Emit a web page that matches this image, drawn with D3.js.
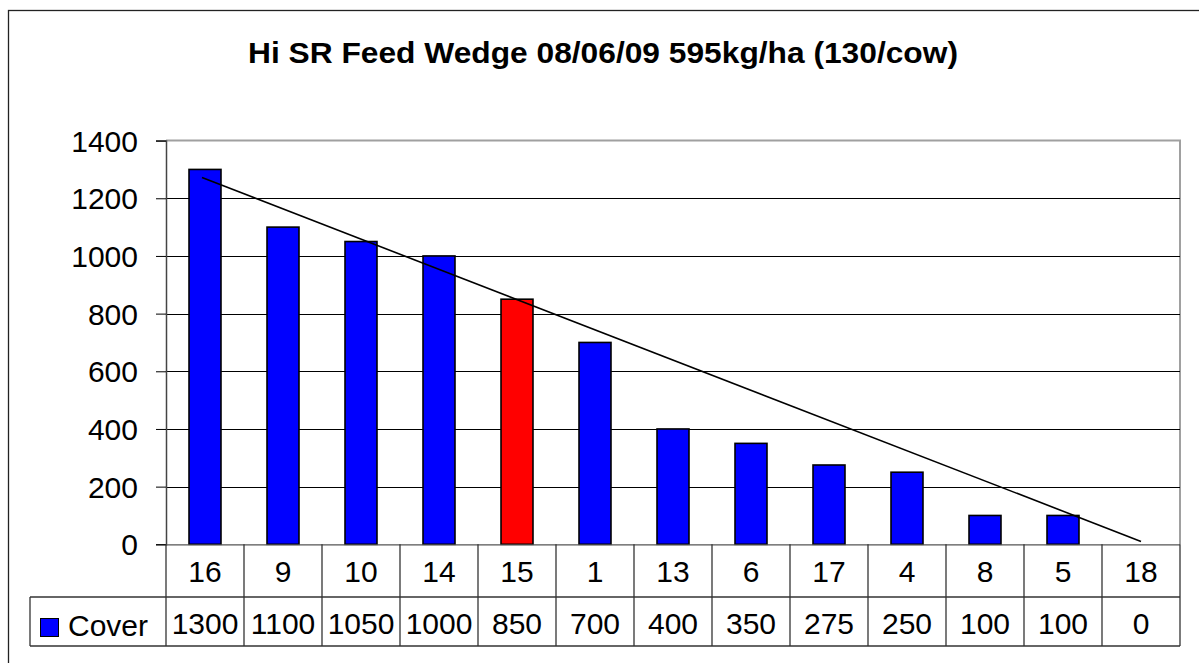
<!DOCTYPE html>
<html>
<head>
<meta charset="utf-8">
<script src="https://cdn.jsdelivr.net/npm/d3@7"></script>
<style>
  html, body { margin: 0; padding: 0; background: #fff; }
  svg { display: block; font-family: "Liberation Sans", Arial, sans-serif; }
</style>
</head>
<body>
<svg id="chart" width="1199" height="663"></svg>
<script>
// ---- data ----
const categories = ["16", "9", "10", "14", "15", "1", "13", "6", "17", "4", "8", "5", "18"];
const coverValues = [1300, 1100, 1050, 1000, 850, 700, 400, 350, 275, 250, 100, 100, 0];
const highlightCategory = "15";
const seriesName = "Cover";
const yTicks = [0, 200, 400, 600, 800, 1000, 1200, 1400];
const targetLine = [{cat: "16", value: 1272}, {cat: "18", value: 10}];
const titleText = "Hi SR Feed Wedge 08/06/09 595kg/ha (130/cow)";

// ---- layout ----
const svg = d3.select("#chart");
const plot = {left: 166, right: 1180, top: 140.6, bottom: 544.3};
const row1Bottom = 597, row2Bottom = 646, legendLeft = 30;

const x = d3.scaleBand().domain(categories).range([plot.left, plot.right]).padding(0);
const y = d3.scaleLinear().domain([0, 1400]).range([plot.bottom, plot.top]);
const barW = x.bandwidth() * 0.41;

// outer chart frame (only left/top edges visible)
svg.append("rect").attr("x", 8.5).attr("y", 10.5).attr("width", 1400).attr("height", 900)
  .attr("fill", "none").attr("stroke", "#222").attr("stroke-width", 1.3);

// title
svg.append("text").attr("x", 603).attr("y", 63).attr("text-anchor", "middle")
  .attr("font-size", 29.5).attr("font-weight", "bold").attr("fill", "#000")
  .attr("textLength", 710).attr("lengthAdjust", "spacingAndGlyphs")
  .text(titleText);

// plot area frame (top and right gray)
svg.append("path")
  .attr("d", `M${plot.left},${plot.top}H${plot.right}V${plot.bottom}`)
  .attr("fill", "none").attr("stroke", "#a0a0a0").attr("stroke-width", 2);

// gridlines
svg.append("g").selectAll("line").data(yTicks.filter(t => t > 0 && t < 1400)).join("line")
  .attr("x1", plot.left).attr("x2", plot.right)
  .attr("y1", d => Math.round(y(d)) + 0.5).attr("y2", d => Math.round(y(d)) + 0.5)
  .attr("stroke", "#000").attr("stroke-width", 1);

// y axis
const yAxis = d3.axisLeft(y).tickValues(yTicks).tickSize(10).tickPadding(18).tickFormat(d3.format("d"));
const gy = svg.append("g").attr("transform", `translate(${plot.left},0)`).call(yAxis);
gy.select(".domain").attr("stroke", "#444").attr("stroke-width", 1.5);
gy.selectAll(".tick line").attr("stroke", "#000");
gy.selectAll(".tick text").attr("font-size", 30).attr("fill", "#000")
  .attr("font-family", "'Liberation Sans', Arial, sans-serif").attr("dy", "0.35em");

// bars
svg.append("g").selectAll("rect").data(categories.map((c, i) => ({c, v: coverValues[i]}))).join("rect")
  .attr("x", d => x(d.c) + (x.bandwidth() - barW) / 2)
  .attr("y", d => y(d.v))
  .attr("width", barW)
  .attr("height", d => y(0) - y(d.v))
  .attr("fill", d => d.c === highlightCategory ? "#ff0000" : "#0000ff")
  .attr("stroke", "#000").attr("stroke-width", 1.6);

// target / trend line
svg.append("line")
  .attr("x1", x(targetLine[0].cat) + x.bandwidth() / 2 - 3)
  .attr("y1", y(targetLine[0].value))
  .attr("x2", x(targetLine[1].cat) + x.bandwidth() / 2)
  .attr("y2", y(targetLine[1].value))
  .attr("stroke", "#000").attr("stroke-width", 1.6);

// data table
const tbl = svg.append("g");
const tcol = "#333";
// horizontal lines
tbl.append("line").attr("x1", plot.left).attr("x2", plot.right).attr("y1", plot.bottom + 0.5).attr("y2", plot.bottom + 0.5)
  .attr("stroke", "#555").attr("stroke-width", 1.3);
tbl.append("line").attr("x1", legendLeft).attr("x2", plot.right).attr("y1", row1Bottom).attr("y2", row1Bottom)
  .attr("stroke", tcol).attr("stroke-width", 1.3);
tbl.append("line").attr("x1", legendLeft).attr("x2", plot.right).attr("y1", row2Bottom).attr("y2", row2Bottom)
  .attr("stroke", tcol).attr("stroke-width", 1.3);
// vertical lines
const bounds = categories.map(c => x(c)).concat([plot.right]);
tbl.selectAll("line.v").data(bounds).join("line").attr("class", "v")
  .attr("x1", d => d).attr("x2", d => d)
  .attr("y1", plot.bottom).attr("y2", row2Bottom)
  .attr("stroke", tcol).attr("stroke-width", 1.3);
tbl.append("line").attr("x1", legendLeft).attr("x2", legendLeft).attr("y1", row1Bottom).attr("y2", row2Bottom)
  .attr("stroke", tcol).attr("stroke-width", 1.3);

// category labels
tbl.selectAll("text.cat").data(categories).join("text").attr("class", "cat")
  .attr("x", d => x(d) + x.bandwidth() / 2).attr("y", 582)
  .attr("text-anchor", "middle").attr("font-size", 30).attr("fill", "#000").text(d => d);
// values
tbl.selectAll("text.val").data(categories.map((c, i) => ({c, v: coverValues[i]}))).join("text").attr("class", "val")
  .attr("x", d => x(d.c) + x.bandwidth() / 2).attr("y", 634)
  .attr("text-anchor", "middle").attr("font-size", 30).attr("fill", "#000").text(d => d.v);

// legend key
tbl.append("rect").attr("x", 40.5).attr("y", 618.5).attr("width", 18).attr("height", 18)
  .attr("fill", "#0000ff").attr("stroke", "#000").attr("stroke-width", 1);
tbl.append("text").attr("x", 68).attr("y", 636).attr("font-size", 30).attr("fill", "#000").text(seriesName);
</script>
</body>
</html>
